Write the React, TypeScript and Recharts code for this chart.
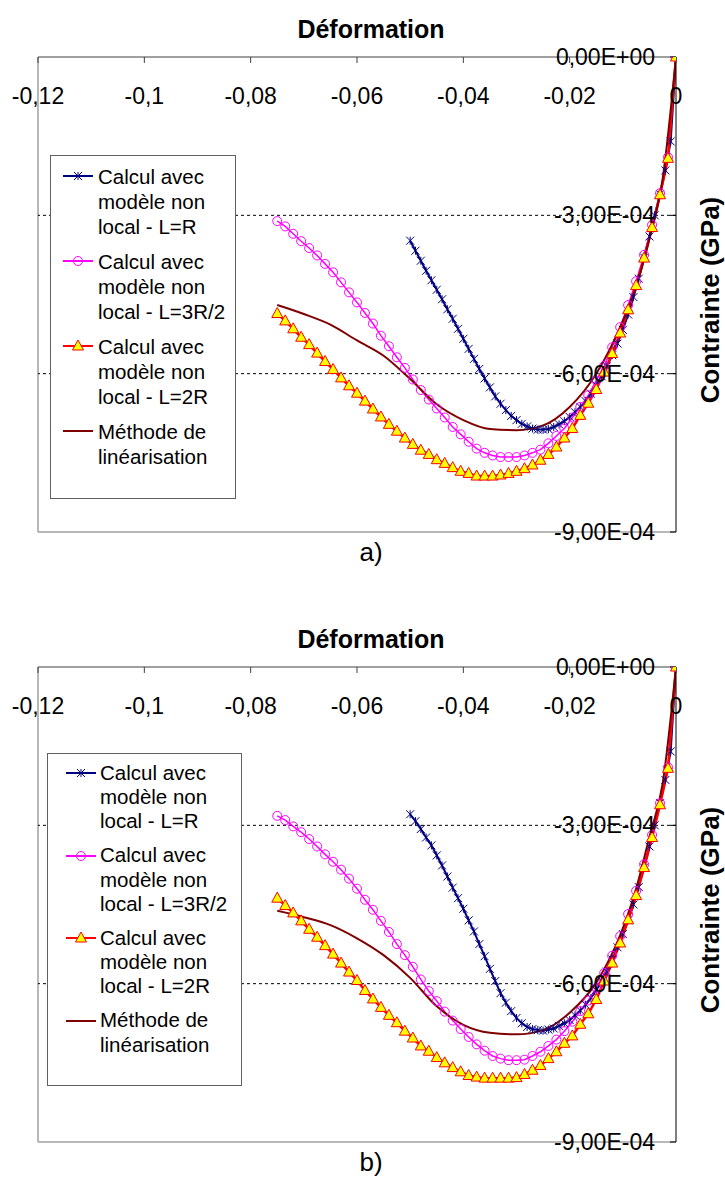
import React from 'react'
import { LineChart, Line, XAxis, YAxis, ReferenceLine, Legend } from 'recharts'

const FONT = '"Liberation Sans", Arial, sans-serif'

// Déformation : pas de 0,0015 (L=3R/2 et L=2R)
const strainFine = [
  -0.075, -0.0735, -0.072, -0.0705, -0.069, -0.0675, -0.066, -0.0645, -0.063, -0.0615,
  -0.06, -0.0585, -0.057, -0.0555, -0.054, -0.0525, -0.051, -0.0495, -0.048, -0.0465,
  -0.045, -0.0435, -0.042, -0.0405, -0.039, -0.0375, -0.036, -0.0345, -0.033, -0.0315,
  -0.03, -0.0285, -0.027, -0.0255, -0.024, -0.0225, -0.021, -0.0195, -0.018, -0.0165,
  -0.015, -0.0135, -0.012, -0.0105, -0.009, -0.0075, -0.006, -0.0045, -0.003, -0.0015, 0,
]
// Déformation : pas de 0,001 (L=R)
const strainStar = [
  -0.05, -0.049, -0.048, -0.047, -0.046, -0.045, -0.044, -0.043, -0.042, -0.041,
  -0.04, -0.039, -0.038, -0.037, -0.036, -0.035, -0.034, -0.033, -0.032, -0.031,
  -0.03, -0.029, -0.028, -0.027, -0.026, -0.025, -0.024, -0.023, -0.022, -0.021,
  -0.02, -0.019, -0.018, -0.017, -0.016, -0.015, -0.014, -0.013, -0.012, -0.011,
  -0.01, -0.009, -0.008, -0.007, -0.006, -0.005, -0.004, -0.003, -0.002, -0.001, 0,
]
// Déformation : méthode de linéarisation
const strainLin = [
  -0.075, -0.07, -0.065, -0.06, -0.055, -0.05, -0.045, -0.04, -0.035,
  -0.03, -0.025, -0.02, -0.015, -0.01, -0.0075, -0.005, -0.0025, 0,
]

// Contraintes (en 1E-04 GPa) – figure a)
const stressA_LR = [
  -3.48, -3.67, -3.86, -4.05, -4.23, -4.41, -4.59, -4.78, -4.96, -5.15,
  -5.34, -5.53, -5.72, -5.91, -6.09, -6.26, -6.43, -6.57, -6.69, -6.8,
  -6.88, -6.95, -7.0, -7.04, -7.06, -7.06, -7.05, -7.01, -6.96, -6.9,
  -6.82, -6.73, -6.63, -6.52, -6.38, -6.22, -6.05, -5.86, -5.65, -5.43,
  -5.17, -4.88, -4.55, -4.2, -3.8, -3.4, -3.0, -2.6, -2.15, -1.6, 0,
]
const stressA_L3R2 = [
  -3.11, -3.21, -3.35, -3.49, -3.62, -3.76, -3.92, -4.08, -4.27, -4.46,
  -4.65, -4.85, -5.05, -5.28, -5.48, -5.69, -5.89, -6.11, -6.31, -6.49,
  -6.66, -6.83, -7.01, -7.15, -7.29, -7.42, -7.5, -7.55, -7.58, -7.58,
  -7.58, -7.55, -7.5, -7.44, -7.32, -7.18, -7.04, -6.83, -6.63, -6.41,
  -6.13, -5.85, -5.5, -5.12, -4.7, -4.25, -3.75, -3.18, -2.58, -1.9, 0,
]
const stressA_L2R = [
  -4.86, -5.0, -5.15, -5.31, -5.45, -5.61, -5.77, -5.92, -6.08, -6.23,
  -6.37, -6.52, -6.67, -6.82, -6.96, -7.09, -7.22, -7.34, -7.45, -7.53,
  -7.63, -7.7, -7.78, -7.85, -7.89, -7.94, -7.94, -7.94, -7.92, -7.89,
  -7.85, -7.8, -7.73, -7.64, -7.53, -7.39, -7.22, -7.04, -6.79, -6.56,
  -6.3, -5.97, -5.62, -5.23, -4.79, -4.33, -3.81, -3.23, -2.61, -1.92, 0,
]
const stressA_Lin = [
  -4.7, -4.87, -5.07, -5.37, -5.66, -6.1, -6.58, -6.88, -7.05,
  -7.07, -6.98, -6.63, -6.0, -5.0, -4.35, -3.45, -2.3, 0,
]

// Contraintes (en 1E-04 GPa) – figure b)
const stressB_LR = [
  -2.79, -2.92, -3.07, -3.23, -3.38, -3.57, -3.76, -3.97, -4.18, -4.38,
  -4.58, -4.8, -5.01, -5.25, -5.48, -5.72, -5.95, -6.18, -6.36, -6.52,
  -6.65, -6.75, -6.82, -6.86, -6.88, -6.89, -6.87, -6.85, -6.8, -6.75,
  -6.69, -6.6, -6.51, -6.4, -6.27, -6.12, -5.95, -5.77, -5.54, -5.31,
  -5.06, -4.8, -4.5, -4.17, -3.8, -3.4, -3.0, -2.58, -2.14, -1.6, 0,
]
const stressB_L3R2 = [
  -2.82, -2.9, -3.02, -3.13, -3.26, -3.4, -3.55, -3.69, -3.84, -4.01,
  -4.2, -4.41, -4.6, -4.81, -5.02, -5.25, -5.46, -5.68, -5.92, -6.14,
  -6.33, -6.53, -6.7, -6.86, -7.01, -7.15, -7.27, -7.37, -7.42, -7.45,
  -7.45, -7.44, -7.37, -7.29, -7.18, -7.06, -6.9, -6.72, -6.52, -6.32,
  -6.08, -5.8, -5.47, -5.1, -4.68, -4.24, -3.74, -3.18, -2.58, -1.9, 0,
]
const stressB_L2R = [
  -4.38, -4.52, -4.66, -4.81, -4.97, -5.12, -5.28, -5.44, -5.61, -5.78,
  -5.94, -6.13, -6.29, -6.45, -6.6, -6.74, -6.9, -7.03, -7.18, -7.28,
  -7.4, -7.5, -7.59, -7.67, -7.74, -7.77, -7.79, -7.79, -7.79, -7.79,
  -7.78, -7.72, -7.64, -7.55, -7.42, -7.29, -7.13, -6.99, -6.77, -6.57,
  -6.3, -5.95, -5.61, -5.23, -4.79, -4.33, -3.8, -3.23, -2.61, -1.92, 0,
]
const stressB_Lin = [
  -4.62, -4.74, -4.89, -5.14, -5.46, -5.89, -6.43, -6.78, -6.93,
  -6.96, -6.88, -6.55, -5.98, -4.95, -4.2, -3.22, -2.2, 0,
]

const xTicks = [-0.12, -0.1, -0.08, -0.06, -0.04, -0.02, 0]
const yTicks = [0, -3, -6, -9]
const gridValues = [-3, -6]

const legendLines = [
  ['Calcul avec', 'modèle non', 'local - L=R'],
  ['Calcul avec', 'modèle non', 'local - L=3R/2'],
  ['Calcul avec', 'modèle non', 'local - L=2R'],
  ['Méthode de', 'linéarisation'],
]

const NAVY = '#000080'
const MAGENTA = '#ff00ff'
const RED = '#ff0000'
const YELLOW = '#ffff00'
const MAROON = '#800000'

type Pt = { x: number; y: number }
const zip = (xs: number[], ys: number[]): Pt[] => xs.map((x, i) => ({ x, y: ys[i] }))

const fmtX = (v: number) => (v === 0 ? '0' : String(v).replace('.', ','))
const fmtY = (v: number) => (v === 0 ? '0,00E+00' : `-${Math.abs(v)},00E-04`)

// plot area
const PLOT_LEFT = 38
const PLOT_RIGHT = 676
const PLOT_TOP = 57
const PLOT_BOTTOM = 532
const CH_W = 725
const CH_H = 560

const star = (cx: number, cy: number, key?: any) => (
  <g key={key} stroke={NAVY} strokeWidth={1}>
    <line x1={cx - 4} y1={cy - 4} x2={cx + 4} y2={cy + 4} />
    <line x1={cx - 4} y1={cy + 4} x2={cx + 4} y2={cy - 4} />
    <line x1={cx} y1={cy - 4} x2={cx} y2={cy + 4} />
  </g>
)
const circle = (cx: number, cy: number, key?: any) => (
  <circle key={key} cx={cx} cy={cy} r={4.5} fill="none" stroke={MAGENTA} strokeWidth={1} />
)
const triangle = (cx: number, cy: number, key?: any) => (
  <polygon
    key={key}
    points={`${cx},${cy - 6} ${cx + 5.5},${cy + 4} ${cx - 5.5},${cy + 4}`}
    fill={YELLOW}
    stroke={RED}
    strokeWidth={1}
  />
)

const dotOf = (shape: (cx: number, cy: number, key?: any) => React.ReactElement) => (p: any) => {
  if (p.cx == null || p.cy == null) return <g key={`e${p.index}`} />
  return shape(p.cx, p.cy, `d${p.index}`)
}

const XTick = (p: any) => (
  <text x={p.x} y={PLOT_TOP + 39} textAnchor="middle" dominantBaseline="central" fontFamily={FONT} fontSize={23} fill="#000">
    {fmtX(p.payload.value)}
  </text>
)
const YTick = (p: any) => (
  <text x={PLOT_RIGHT - 21} y={p.y} textAnchor="end" dominantBaseline="central" fontFamily={FONT} fontSize={23} fill="#000">
    {fmtY(p.payload.value)}
  </text>
)

type LegendGeom = {
  left: number
  top: number
  width: number
  height: number
  firstRow: number
  pitch: number
  entryPitch: number
  symX: number
  textX: number
}

const legendSymbols = [
  { color: NAVY, mark: star },
  { color: MAGENTA, mark: circle },
  { color: RED, mark: triangle },
  { color: MAROON, mark: null },
]

const LegendBox = ({ g }: { g: LegendGeom }) => (
  <div
    style={{
      position: 'relative',
      width: g.width,
      height: g.height,
      boxSizing: 'border-box',
      border: '1px solid #606060',
      background: '#fff',
      fontFamily: FONT,
      fontSize: 20.5,
      color: '#000',
    }}
  >
    {legendLines.map((lines, i) => {
      const rowTop = g.firstRow + g.entryPitch * i
      const sym = legendSymbols[i]
      return (
        <React.Fragment key={i}>
          <svg width={32} height={14} style={{ position: 'absolute', left: g.symX, top: rowTop - 7 }}>
            <line x1={0} y1={7} x2={30} y2={7} stroke={sym.color} strokeWidth={2} />
            {sym.mark ? sym.mark(15, 7) : null}
          </svg>
          {lines.map((t, j) => (
            <div
              key={j}
              style={{
                position: 'absolute',
                left: g.textX,
                top: rowTop + g.pitch * j - g.pitch / 2,
                lineHeight: `${g.pitch}px`,
                whiteSpace: 'nowrap',
              }}
            >
              {t}
            </div>
          ))}
        </React.Fragment>
      )
    })}
  </div>
)

type PanelProps = {
  top: number
  lr: number[]
  l3r2: number[]
  l2r: number[]
  lin: number[]
  tag: string
  legend: LegendGeom
}

const Panel = ({ top, lr, l3r2, l2r, lin, tag, legend }: PanelProps) => (
  <div style={{ position: 'absolute', left: 0, top, width: CH_W, height: 575 }}>
    <div
      style={{
        position: 'absolute',
        left: 371,
        top: 14,
        transform: 'translateX(-50%)',
        fontFamily: FONT,
        fontWeight: 'bold',
        fontSize: 25,
        lineHeight: '30px',
        whiteSpace: 'nowrap',
      }}
    >
      Déformation
    </div>
    <div style={{ position: 'absolute', left: 0, top: 0 }}>
      <LineChart width={CH_W} height={CH_H} margin={{ top: PLOT_TOP, right: CH_W - PLOT_RIGHT, bottom: CH_H - PLOT_BOTTOM, left: PLOT_LEFT }}>
        <XAxis
          type="number"
          dataKey="x"
          domain={[-0.12, 0]}
          ticks={xTicks}
          orientation="top"
          mirror
          allowDataOverflow
          tickSize={6}
          stroke="#404040"
          tick={<XTick />}
        />
        <YAxis
          type="number"
          domain={[-9, 0]}
          ticks={yTicks}
          orientation="right"
          mirror
          allowDataOverflow
          tickSize={6}
          stroke="#000"
          tick={<YTick />}
        />
        <ReferenceLine x={-0.12} stroke="#a0a0a0" strokeWidth={1.5} />
        <ReferenceLine y={-9} stroke="#a0a0a0" strokeWidth={1.5} />
        {gridValues.map((v) => (
          <ReferenceLine key={v} y={v} stroke="#000" strokeDasharray="3 3" />
        ))}
        <Line
          data={zip(strainStar, lr)}
          dataKey="y"
          stroke={NAVY}
          strokeWidth={2}
          dot={dotOf(star)}
          isAnimationActive={false}
        />
        <Line
          data={zip(strainFine, l3r2)}
          dataKey="y"
          stroke={MAGENTA}
          strokeWidth={1.5}
          dot={dotOf(circle)}
          isAnimationActive={false}
        />
        <Line
          data={zip(strainFine, l2r)}
          dataKey="y"
          stroke={RED}
          strokeWidth={2.5}
          dot={dotOf(triangle)}
          isAnimationActive={false}
        />
        <Line
          data={zip(strainLin, lin)}
          dataKey="y"
          type="monotone"
          stroke={MAROON}
          strokeWidth={2}
          dot={false}
          isAnimationActive={false}
        />
        <Legend
          layout="horizontal"
          verticalAlign="middle"
          align="center"
          content={() => <LegendBox g={legend} />}
          wrapperStyle={{ position: 'absolute', left: legend.left, top: legend.top, width: legend.width, height: legend.height }}
        />
      </LineChart>
    </div>
    <div
      style={{
        position: 'absolute',
        left: 710,
        top: 300,
        transform: 'translate(-50%, -50%) rotate(-90deg)',
        fontFamily: FONT,
        fontWeight: 'bold',
        fontSize: 26,
        whiteSpace: 'nowrap',
      }}
    >
      Contrainte (GPa)
    </div>
    <div
      style={{
        position: 'absolute',
        left: 371,
        top: 552,
        transform: 'translate(-50%, -50%)',
        fontFamily: FONT,
        fontSize: 26,
        whiteSpace: 'nowrap',
      }}
    >
      {tag}
    </div>
  </div>
)

export default function App() {
  return (
    <div style={{ position: 'absolute', left: 0, top: 0, width: 725, height: 1180, background: '#fff' }}>
      <Panel
        top={0}
        lr={stressA_LR}
        l3r2={stressA_L3R2}
        l2r={stressA_L2R}
        lin={stressA_Lin}
        tag="a)"
        legend={{ left: 50, top: 155, width: 186, height: 344, firstRow: 20, pitch: 25, entryPitch: 85, symX: 12, textX: 47 }}
      />
      <Panel
        top={610}
        lr={stressB_LR}
        l3r2={stressB_L3R2}
        l2r={stressB_L2R}
        lin={stressB_Lin}
        tag="b)"
        legend={{ left: 47, top: 143, width: 195, height: 333, firstRow: 19, pitch: 24.3, entryPitch: 82.5, symX: 18, textX: 52 }}
      />
    </div>
  )
}
